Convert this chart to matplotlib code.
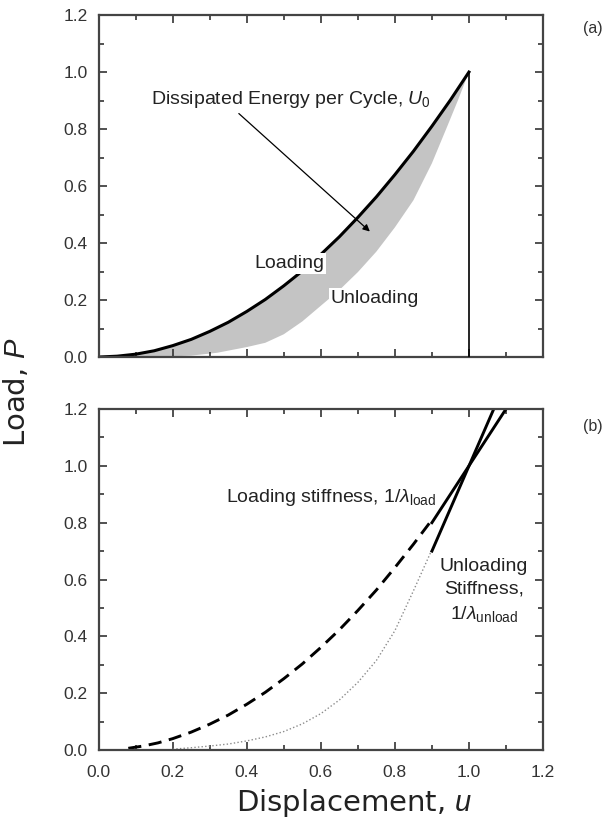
import matplotlib
matplotlib.use("Agg")
import matplotlib.pyplot as plt
from matplotlib.ticker import MultipleLocator, FormatStrFormatter

plt.rcParams["font.family"] = ["Liberation Sans", "DejaVu Sans"]
plt.rcParams["mathtext.fontset"] = "custom"
plt.rcParams["mathtext.rm"] = "Liberation Sans"
plt.rcParams["mathtext.it"] = "Liberation Sans:italic"

# values
# (a) loading / unloading cycle
load_u = [0.0, 0.05, 0.1, 0.15, 0.2, 0.25, 0.3, 0.35, 0.4, 0.45, 0.5, 0.55, 0.6,
          0.65, 0.7, 0.75, 0.8, 0.85, 0.9, 0.95, 1.0]
load_P = [0.0, 0.003, 0.01, 0.022, 0.04, 0.062, 0.09, 0.122, 0.16, 0.202, 0.25,
          0.302, 0.36, 0.422, 0.49, 0.562, 0.64, 0.722, 0.81, 0.902, 1.0]
unload_u = [0.15, 0.25, 0.32, 0.4, 0.45, 0.5, 0.55, 0.6, 0.65, 0.7, 0.75, 0.8,
            0.85, 0.9, 0.94, 0.97, 1.0]
unload_P = [0.0, 0.005, 0.015, 0.035, 0.05, 0.08, 0.125, 0.18, 0.235, 0.298, 0.37,
            0.455, 0.55, 0.68, 0.805, 0.9, 1.0]
drop_u = [1.0, 1.0]
drop_P = [1.0, 0.0]

# (b) secant curves and tangent stiffness lines
dash_u = [0.08, 0.12, 0.16, 0.2, 0.25, 0.3, 0.35, 0.4, 0.45, 0.5, 0.55, 0.6, 0.65,
          0.7, 0.75, 0.8, 0.85, 0.9]
dash_P = [0.006, 0.014, 0.025, 0.04, 0.063, 0.091, 0.123, 0.161, 0.203, 0.251,
          0.303, 0.361, 0.423, 0.491, 0.563, 0.642, 0.724, 0.81]
dot_u = [0.2, 0.25, 0.3, 0.35, 0.4, 0.45, 0.5, 0.55, 0.6, 0.65, 0.7, 0.75, 0.8,
         0.85, 0.9]
dot_P = [0.003, 0.008, 0.014, 0.021, 0.032, 0.046, 0.065, 0.092, 0.128, 0.176,
         0.238, 0.315, 0.42, 0.56, 0.705]
tan_load_u = [0.9, 1.1]
tan_load_P = [0.8, 1.2]
tan_unload_u = [0.9, 1.067]
tan_unload_P = [0.7, 1.2]

fig = plt.figure(figsize=(6.05, 8.24), dpi=100)
ax1 = fig.add_axes([0.1631, 0.5667, 0.7344, 0.4150])
ax2 = fig.add_axes([0.1631, 0.0898, 0.7344, 0.4138])

for ax in (ax1, ax2):
    ax.set_xlim(0, 1.2)
    ax.set_ylim(0, 1.2)
    ax.xaxis.set_major_locator(MultipleLocator(0.2))
    ax.xaxis.set_minor_locator(MultipleLocator(0.1))
    ax.yaxis.set_major_locator(MultipleLocator(0.2))
    ax.yaxis.set_minor_locator(MultipleLocator(0.1))
    ax.tick_params(which="both", direction="in", top=True, right=True,
                   colors="#333333", labelsize=12.5, width=1.2)
    ax.tick_params(which="major", length=6)
    ax.tick_params(which="minor", length=3.5)
    ax.tick_params(axis="y", pad=8)
    ax.tick_params(axis="x", pad=11)
    ax.yaxis.set_major_formatter(FormatStrFormatter("%.1f"))
    ax.xaxis.set_major_formatter(FormatStrFormatter("%.1f"))
    for sp in ax.spines.values():
        sp.set_linewidth(1.6)
        sp.set_color("#444444")

ax1.tick_params(labelbottom=False)

# (a)
poly_u = load_u + unload_u[::-1]
poly_P = load_P + unload_P[::-1]
ax1.fill(poly_u, poly_P, color="#c4c4c4", lw=0, zorder=1)
ax1.plot(load_u, load_P, color="black", lw=2.2, zorder=2)
ax1.plot(drop_u, drop_P, color="black", lw=1.2, zorder=4)

ax1.text(0.515, 0.329, "Loading", fontsize=14, ha="center", va="center",
         color="#222222", zorder=5,
         bbox=dict(facecolor="white", edgecolor="none", pad=1.5))
ax1.text(0.745, 0.206, "Unloading", fontsize=14, ha="center", va="center",
         color="#222222", zorder=5,
         bbox=dict(facecolor="white", edgecolor="none", pad=1))
ax1.text(0.52, 0.902, r"Dissipated Energy per Cycle, $U_0$", fontsize=14,
         ha="center", va="center", color="#222222", zorder=5)
ax1.annotate("", xy=(0.738, 0.434), xytext=(0.373, 0.861),
             arrowprops=dict(arrowstyle="-|>", color="black", lw=0.9,
                             mutation_scale=10), zorder=6)

# (b)
ax2.plot(dash_u, dash_P, color="black", lw=2.1, dashes=(4.5, 2.6))
ax2.plot(dot_u, dot_P, color="#8c8c8c", lw=1.0, linestyle=(0, (1, 1.6)))
ax2.plot(tan_load_u, tan_load_P, color="black", lw=2.1)
ax2.plot(tan_unload_u, tan_unload_P, color="black", lw=2.1)

ax2.text(0.627, 0.89, r"Loading stiffness, 1/$\lambda_{\mathrm{load}}$", fontsize=14,
         ha="center", va="center", color="#222222")
ax2.text(1.04, 0.56, "Unloading\nStiffness,\n" + r"1/$\lambda_{\mathrm{unload}}$",
         fontsize=14, ha="center", va="center", multialignment="center",
         linespacing=1.45, color="#222222")

fig.text(0.996, 0.966, "(a)", fontsize=11.5, ha="right", va="center", color="#333333")
fig.text(0.996, 0.482, "(b)", fontsize=11.5, ha="right", va="center", color="#333333")

fig.text(0.585, 0.026, r"Displacement, $u$", fontsize=21, ha="center", va="center",
         color="#222222", family=["DejaVu Sans"])
fig.text(0.028, 0.524, r"Load, $P$", fontsize=21, ha="center", va="center",
         rotation=90, color="#222222", family=["DejaVu Sans"])

fig.savefig("out.png", dpi=100)
